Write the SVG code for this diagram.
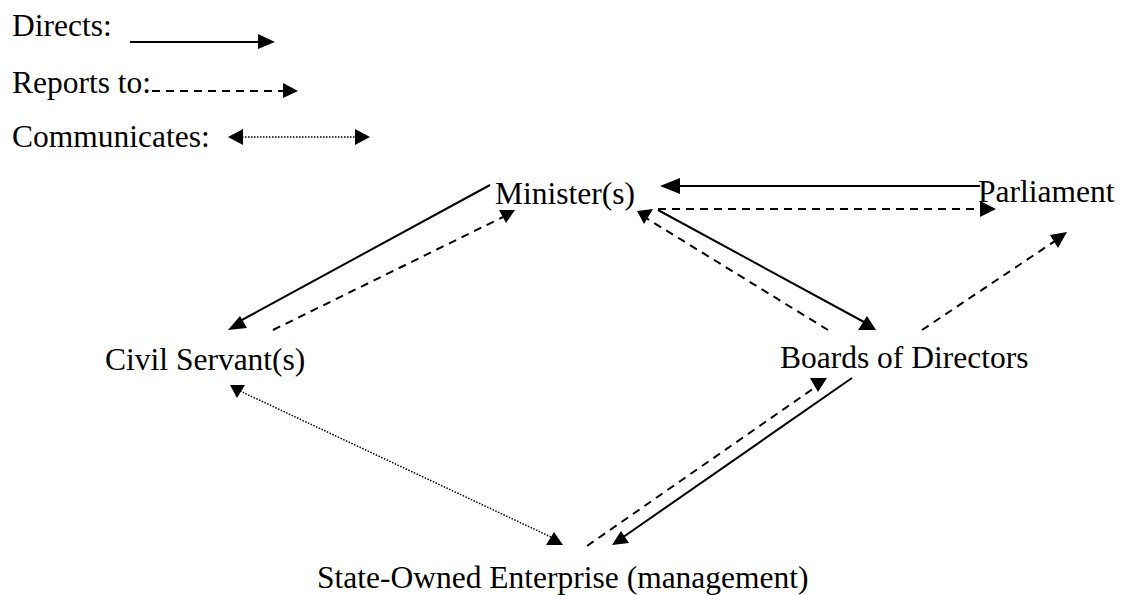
<svg xmlns="http://www.w3.org/2000/svg" width="1122" height="595" viewBox="0 0 1122 595">
<style>
text{font-family:"Liberation Serif","Times New Roman",serif;font-size:31.5px;fill:#000}
.s{stroke:#000;stroke-width:2;fill:none}
.d{stroke:#000;stroke-width:2;fill:none;stroke-dasharray:8 6}
.o{stroke:#000;stroke-width:1.5;fill:none;stroke-dasharray:1.5 1.5}
.h{fill:#000;stroke:none}
</style>
<rect width="1122" height="595" fill="#fff"/>
<g id="legend">
<text x="12" y="36">Directs:</text>
<line class="s" x1="130" y1="42" x2="260" y2="42"/>
<polygon class="h" points="258,34 275,42 258,49"/>
<text x="12" y="93">Reports to:</text>
<line class="d" x1="152" y1="91" x2="284" y2="91"/>
<polygon class="h" points="283,83 298,91 283,98"/>
<text x="12" y="147">Communicates:</text>
<line class="o" x1="242" y1="137" x2="356" y2="137"/>
<polygon class="h" points="228,137 243,129 243,145"/>
<polygon class="h" points="355,129 370,137 355,145"/>
</g>
<g id="minister"><text x="495" y="204">Minister(s)</text></g>
<g id="parliament"><text x="978" y="202">Parliament</text></g>
<g id="civil-servants"><text x="105" y="370">Civil Servant(s)</text></g>
<g id="boards"><text x="780" y="368">Boards of Directors</text></g>
<g id="soe"><text x="317" y="588">State-Owned Enterprise (management)</text></g>
<g id="connectors">
<line class="s" x1="980" y1="186" x2="678" y2="186"/>
<polygon class="h" points="660,186 680,178 680,194"/>
<line class="d" x1="658" y1="209" x2="982" y2="209"/>
<polygon class="h" points="980,201 996,209 980,217"/>
<line class="s" x1="490" y1="185" x2="240" y2="321"/>
<polygon class="h" points="228,330 247,328 240,316"/>
<line class="d" x1="273" y1="330" x2="503" y2="217"/>
<polygon class="h" points="499,210 515,210 506,223"/>
<line class="s" x1="658" y1="210" x2="864" y2="322"/>
<polygon class="h" points="867,316 858,330 876,330"/>
<line class="d" x1="828" y1="330" x2="646" y2="218"/>
<polygon class="h" points="637,211 653,209 644,224"/>
<line class="d" x1="922" y1="330" x2="1058" y2="239"/>
<polygon class="h" points="1050,235 1067,232 1058,248"/>
<line class="s" x1="852" y1="378" x2="619" y2="540"/>
<polygon class="h" points="612,545 621,531 629,543"/>
<line class="d" x1="587" y1="546" x2="817" y2="386"/>
<polygon class="h" points="810,378 827,378 818,392"/>
<line class="o" x1="240" y1="391" x2="551" y2="537"/>
<polygon class="h" points="230,385 245,385 237,398"/>
<polygon class="h" points="546,545 563,545 554,532"/>
</g>
</svg>
